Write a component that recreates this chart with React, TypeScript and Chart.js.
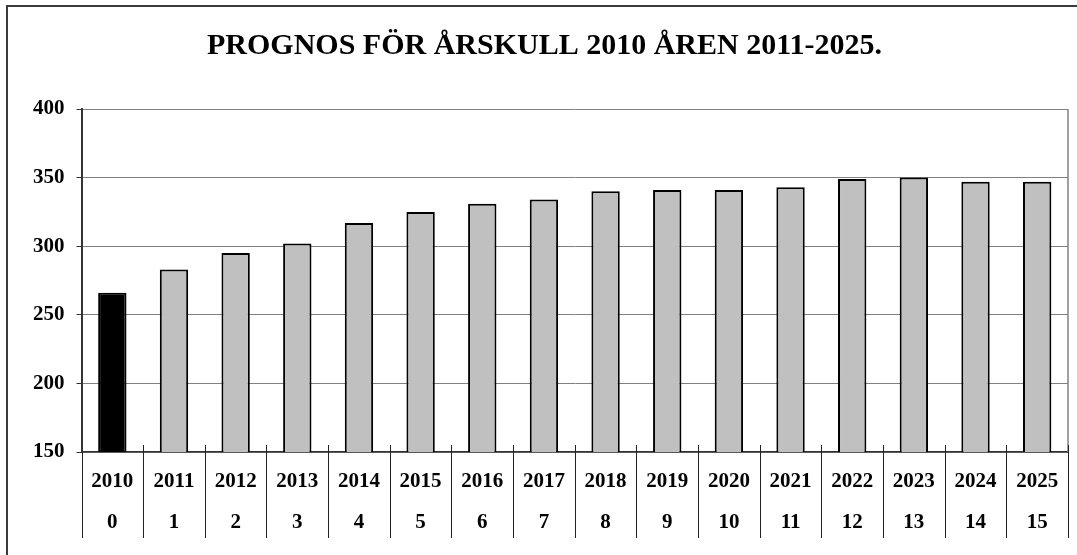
import React, { useEffect, useRef } from "react";
import { Chart, registerables } from "chart.js";

Chart.register(...registerables);

const years = ["2010", "2011", "2012", "2013", "2014", "2015", "2016", "2017", "2018", "2019", "2020", "2021", "2022", "2023", "2024", "2025"];
const yearIndex = ["0", "1", "2", "3", "4", "5", "6", "7", "8", "9", "10", "11", "12", "13", "14", "15"];
const values = [266, 283, 295, 302, 317, 325, 331, 334, 340, 341, 341, 343, 349, 350, 347, 347];
const barColors = years.map((_, i) => (i === 0 ? "#000000" : "#c0c0c0"));
const titleText = "PROGNOS FÖR ÅRSKULL 2010 ÅREN 2011-2025.";

const FONT = "'Liberation Serif', 'Times New Roman', serif";

const separatorPlugin = {
  id: "separators",
  afterDraw(chart: any) {
    const { ctx, chartArea, scales } = chart;
    const xs = scales.x;
    const n = years.length;
    const step = xs.getPixelForValue(1) - xs.getPixelForValue(0);
    const axisY = chartArea.bottom;
    ctx.save();
    ctx.strokeStyle = "#808080";
    ctx.lineWidth = 1.5;
    ctx.beginPath();
    ctx.moveTo(chartArea.right, chartArea.top);
    ctx.lineTo(chartArea.right, axisY);
    ctx.stroke();
    ctx.strokeStyle = "#222";
    ctx.lineWidth = 1;
    for (let i = 0; i <= n; i++) {
      const x = Math.round(xs.getPixelForValue(0) - step / 2 + i * step) + 0.5;
      ctx.beginPath();
      ctx.moveTo(x, i === 0 ? axisY : axisY - 7);
      ctx.lineTo(x, axisY + 86);
      ctx.stroke();
    }
    ctx.restore();
  },
};

export default function App() {
  const canvasRef = useRef<HTMLCanvasElement | null>(null);

  useEffect(() => {
    if (!canvasRef.current) return;
    const chart = new Chart(canvasRef.current, {
      type: "bar",
      data: {
        labels: years.map((y, i) => [y, yearIndex[i]]),
        datasets: [
          {
            data: values,
            backgroundColor: barColors,
            borderColor: "#000000",
            borderWidth: 2,
            borderSkipped: false,
            barPercentage: 0.46,
            categoryPercentage: 1,
          },
        ],
      },
      options: {
        animation: false,
        responsive: true,
        maintainAspectRatio: false,
        layout: { padding: { left: 12, right: 5, top: 0, bottom: 5 } },
        plugins: {
          legend: { display: false },
          tooltip: { enabled: false },
          title: {
            display: true,
            text: titleText,
            color: "#000",
            font: { family: FONT, size: 30, weight: "bold", lineHeight: 1.2 },
            padding: { top: 20, bottom: 45 },
          },
        },
        scales: {
          x: {
            offset: true,
            grid: { display: false, drawTicks: false },
            border: { display: true, color: "#333", width: 1.5 },
            ticks: {
              color: "#000",
              padding: 9,
              maxRotation: 0,
              autoSkip: false,
              font: { family: FONT, size: 21, weight: "bold", lineHeight: "41px" },
            },
          },
          y: {
            min: 150,
            max: 400,
            ticks: {
              stepSize: 50,
              color: "#000",
              padding: 12,
              font: { family: FONT, size: 21, weight: "bold" },
            },
            grid: { color: "#808080", lineWidth: 1, tickLength: 5, tickColor: "#333" },
            border: { display: true, color: "#333", width: 2 },
          },
        },
      },
      plugins: [separatorPlugin],
    });
    return () => chart.destroy();
  }, []);

  return (
    <div style={{ position: "fixed", left: 0, top: 0, width: "100vw", height: "100vh", overflow: "hidden", background: "#fff" }}>
      <div
        style={{
          position: "absolute",
          left: 6,
          top: 5,
          width: 1200,
          height: 700,
          borderLeft: "2px solid #3a3a3a",
          borderTop: "2px solid #3a3a3a",
        }}
      />
      <div style={{ position: "absolute", left: 9, top: 8, width: 1064, height: 549 }}>
        <canvas ref={canvasRef} />
      </div>
    </div>
  );
}
